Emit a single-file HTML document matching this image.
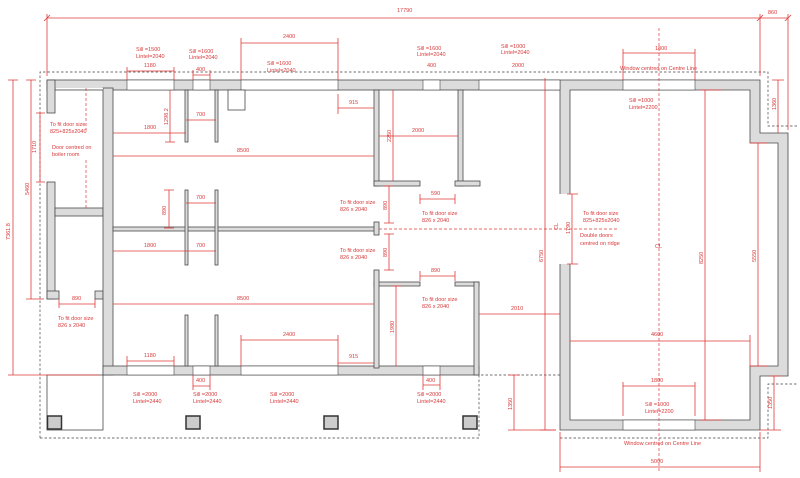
<!DOCTYPE html>
<html><head><meta charset="utf-8"><style>
html,body{margin:0;padding:0;background:#fff;}
svg{display:block}
.w{fill:#dcdcdc;stroke:#4a4a4a;stroke-width:0.8}
.o{fill:#fff;stroke:#4a4a4a;stroke-width:0.8}
.win{fill:#fff;stroke:#4a4a4a;stroke-width:0.6}
.d{stroke:#e03a3a;stroke-width:0.8;fill:none}
.dash{stroke:#444;stroke-width:0.7;stroke-dasharray:2.5,2;fill:none}
.rd{stroke:#e03a3a;stroke-width:0.7;stroke-dasharray:3,2;fill:none}
text{font-family:"Liberation Sans",sans-serif;font-size:5.5px;fill:#d83a3a}
</style></head><body>
<svg width="800" height="478" viewBox="0 0 800 478" xmlns="http://www.w3.org/2000/svg">
<path class="dash" d="M40,438 V72 H768 V126 H797"/>
<path class="dash" d="M40,438 H479 V375 H560"/>
<path class="dash" d="M560,438 H768 V384 H797"/>
<rect class="w" x="47" y="80" width="513" height="10"/>
<rect class="w" x="47" y="80" width="8" height="33"/>
<rect class="w" x="47" y="182" width="8" height="117"/>
<rect class="w" x="55" y="208" width="48" height="8"/>
<rect class="w" x="47" y="291" width="12" height="8"/>
<rect class="w" x="95" y="291" width="8" height="8"/>
<rect class="w" x="103" y="88" width="10" height="287"/>
<rect class="w" x="103" y="366" width="376" height="9"/>
<rect class="w" x="113" y="227" width="263" height="4"/>
<rect class="w" x="374" y="222" width="5" height="13"/>
<rect class="w" x="374" y="90" width="5" height="96"/>
<rect class="w" x="374" y="181" width="46" height="5"/>
<rect class="w" x="458" y="90" width="5" height="96"/>
<rect class="w" x="455" y="181" width="25" height="5"/>
<rect class="w" x="374" y="282" width="46" height="4"/>
<rect class="w" x="374" y="270" width="5" height="98"/>
<rect class="w" x="455" y="282" width="24" height="4"/>
<rect class="w" x="474" y="282" width="5" height="93"/>
<rect class="w" x="185" y="90" width="3" height="52"/>
<rect class="w" x="215" y="90" width="3" height="52"/>
<rect class="w" x="185" y="190" width="3" height="75"/>
<rect class="w" x="215" y="190" width="3" height="75"/>
<rect class="w" x="185" y="315" width="3" height="51"/>
<rect class="w" x="215" y="315" width="3" height="51"/>
<rect x="56" y="88" width="47" height="1.4" fill="#fff"/>
<path class="w" d="M560,80 H760 V133 H788 V376 H760 V430 H560 Z"/>
<path class="o" d="M570,90 H750 V143 H778 V366 H750 V420 H570 Z"/>
<rect x="559" y="194" width="12" height="70" fill="#fff"/>
<rect class="win" x="127" y="80" width="47" height="10"/>
<rect class="win" x="193" y="80" width="17" height="10"/>
<rect class="win" x="241" y="80" width="97" height="10"/>
<rect class="win" x="423" y="80" width="17" height="10"/>
<rect class="win" x="479" y="80" width="81" height="10"/>
<rect class="win" x="623" y="80" width="72" height="10"/>
<rect class="win" x="127" y="366" width="47" height="9"/>
<rect class="win" x="193" y="366" width="17" height="9"/>
<rect class="win" x="241" y="366" width="97" height="9"/>
<rect class="win" x="423" y="366" width="17" height="9"/>
<rect class="win" x="623" y="420" width="72" height="10"/>
<rect x="46" y="113.5" width="10" height="68" fill="#fff"/>
<rect x="59.5" y="290" width="35" height="10" fill="#fff"/>
<rect x="420.5" y="180" width="34" height="7" fill="#fff"/>
<rect x="420.5" y="281" width="34" height="6" fill="#fff"/>
<rect class="o" x="228" y="90" width="17" height="20"/>
<rect class="o" x="47" y="375" width="56" height="55"/>
<g fill="#ccc" stroke="#333" stroke-width="1.5">
<rect x="47.5" y="416" width="14" height="13"/><rect x="186" y="416" width="14" height="13"/>
<rect x="324" y="416" width="14" height="13"/><rect x="463" y="416" width="14" height="13"/></g>
<path class="rd" d="M379,229 H618"/>
<path class="rd" d="M659,28 V472"/>
<path class="rd" d="M86,88 V130 M86,160 V208"/>
<g class="d">
<path d="M47,18 H788 M47,14 V76 M760,14 V76 M788,14 V130 M44,21 L50,15 M757,21 L763,15 M785,21 L791,15"/>
<path d="M241,43 H338 M241,38 V80 M338,38 V80"/>
<path d="M127,71 H174 M127,67 V80 M174,67 V80"/>
<path d="M193,75 H210 M193,70 V80 M210,70 V80"/>
<path d="M338,108 H374 M338,94 V114"/>
<path d="M186,120 H216 M113,133 H186 M170,90 V142 M165,142 H175"/>
<path d="M113,156 H374"/>
<path d="M186,203 H216 M169,190 V228 M164,190 H174 M164,228 H174"/>
<path d="M113,251 H216"/>
<path d="M113,304 H374"/>
<path d="M127,361 H174 M127,356 V366 M174,356 V366"/>
<path d="M241,340 H338 M241,335 V366 M338,335 V366 M338,363 H374"/>
<path d="M193,386 H210 M193,375 V390 M210,375 V390"/>
<path d="M423,385 H440 M423,375 V390 M440,375 V390"/>
<path d="M13,80 V375 M8,80 H18 M8,375 H100 M31,80 V299 M26,80 H36 M26,299 H44 M40,113 V182 M36,113 H45 M36,182 H45"/>
<path d="M59,304 H95 M59,299 V308 M95,299 V308"/>
<path d="M393,90 V181 M379,136 H458"/>
<path d="M420,199 H455 M420,194 V204 M455,194 V204"/>
<path d="M389,186 V223 M389,234 V270 M384,186 H394 M384,223 H394 M384,234 H394 M384,270 H394"/>
<path d="M420,276 H455 M420,271 V281 M455,271 V281"/>
<path d="M396,286 V366 M391,286 H401"/>
<path d="M479,314 H560"/>
<path d="M545,78 V430 M540,430 H556 M572,194 V264 M567,194 H578 M567,264 H578"/>
<path d="M623,53 H695 M623,49 V80 M695,49 V80"/>
<path d="M705,90 V420 M700,90 H722 M700,420 H722"/>
<path d="M758,143 V366 M750,143 H768 M750,366 H768"/>
<path d="M778,80 V133 M772,80 H784"/>
<path d="M570,341 H750 M750,335 V366"/>
<path d="M623,386 H695 M623,382 V416 M695,382 V416"/>
<path d="M774,376 V430 M769,376 H781 M760,430 H781"/>
<path d="M560,467 H760 M560,432 V472 M760,432 V472"/>
<path d="M514,375 V430 M508,375 H520 M508,430 H556"/>
</g>
<text x="397" y="12">17790</text><text x="768" y="14">860</text>
<text x="283" y="38">2400</text>
<text x="136" y="51">Sill    =1500</text><text x="136" y="58">Lintel=2040</text>
<text x="144" y="67">1180</text>
<text x="189" y="53">Sill    =1600</text><text x="189" y="59">Lintel=2040</text>
<text x="196" y="71">400</text>
<text x="267" y="65">Sill    =1600</text><text x="267" y="72">Lintel=2040</text>
<text x="501" y="48">Sill    =1000</text><text x="501" y="54">Lintel=2040</text>
<text x="417" y="50">Sill    =1600</text><text x="417" y="56">Lintel=2040</text>
<text x="427" y="67">400</text><text x="512" y="67">2000</text>
<text x="655" y="50">1800</text>
<text x="620" y="70">Window centred on Centre Line</text>
<text x="629" y="102">Sill    =1000</text><text x="629" y="109">Lintel=2200</text>
<text x="349" y="104">915</text>
<text x="196" y="116">700</text><text x="144" y="129">1800</text>
<text x="237" y="152">8500</text>
<text x="412" y="132">2000</text>
<text x="50" y="126">To fit door size</text><text x="50" y="133">825+825x2040</text>
<text x="52" y="149">Door centred on</text><text x="52" y="156">boiler room</text>
<text x="196" y="199">700</text><text x="144" y="247">1800</text><text x="196" y="247">700</text>
<text x="431" y="195">590</text>
<text x="422" y="215">To fit door size</text><text x="422" y="222">826 x 2040</text>
<text x="340" y="204">To fit door size</text><text x="340" y="211">826 x 2040</text>
<text x="340" y="252">To fit door size</text><text x="340" y="259">826 x 2040</text>
<text x="583" y="215">To fit door size</text><text x="583" y="222">825+825x2040</text>
<text x="580" y="237">Double doors</text><text x="580" y="245">centred on ridge</text>
<text x="431" y="272">890</text>
<text x="422" y="301">To fit door size</text><text x="422" y="308">826 x 2040</text>
<text x="237" y="300">8500</text><text x="72" y="300">890</text>
<text x="58" y="320">To fit door size</text><text x="58" y="327">826 x 2040</text>
<text x="511" y="310">2010</text><text x="651" y="336">4600</text>
<text x="283" y="336">2400</text><text x="144" y="357">1180</text><text x="349" y="358">915</text>
<text x="651" y="382">1800</text>
<text x="196" y="382">400</text><text x="426" y="382">400</text>
<text x="133" y="396">Sill    =2000</text><text x="133" y="403">Lintel=2440</text>
<text x="193" y="396">Sill    =2000</text><text x="193" y="403">Lintel=2440</text>
<text x="270" y="396">Sill    =2000</text><text x="270" y="403">Lintel=2440</text>
<text x="417" y="396">Sill    =2000</text><text x="417" y="403">Lintel=2440</text>
<text x="645" y="406">Sill    =1000</text><text x="645" y="413">Lintel=2200</text>
<text x="624" y="445">Window centred on Centre Line</text>
<text x="651" y="463">5000</text>
<text x="655" y="248">CL</text>
<g>
<text transform="translate(10,240) rotate(-90)">7361.8</text>
<text transform="translate(29,195) rotate(-90)">5460</text>
<text transform="translate(36,153) rotate(-90)">1710</text>
<text transform="translate(168,125) rotate(-90)">1298.2</text>
<text transform="translate(166,215) rotate(-90)">890</text>
<text transform="translate(391,142) rotate(-90)">2250</text>
<text transform="translate(387,210) rotate(-90)">890</text>
<text transform="translate(387,257) rotate(-90)">890</text>
<text transform="translate(394,333) rotate(-90)">1980</text>
<text transform="translate(543,262) rotate(-90)">6750</text>
<text transform="translate(558,230) rotate(-90)">CL</text>
<text transform="translate(570,234) rotate(-90)">1790</text>
<text transform="translate(703,264) rotate(-90)">8250</text>
<text transform="translate(756,262) rotate(-90)">5550</text>
<text transform="translate(776,110) rotate(-90)">1360</text>
<text transform="translate(772,409) rotate(-90)">1350</text>
<text transform="translate(512,410) rotate(-90)">1350</text>
</g>
</svg>
</body></html>
